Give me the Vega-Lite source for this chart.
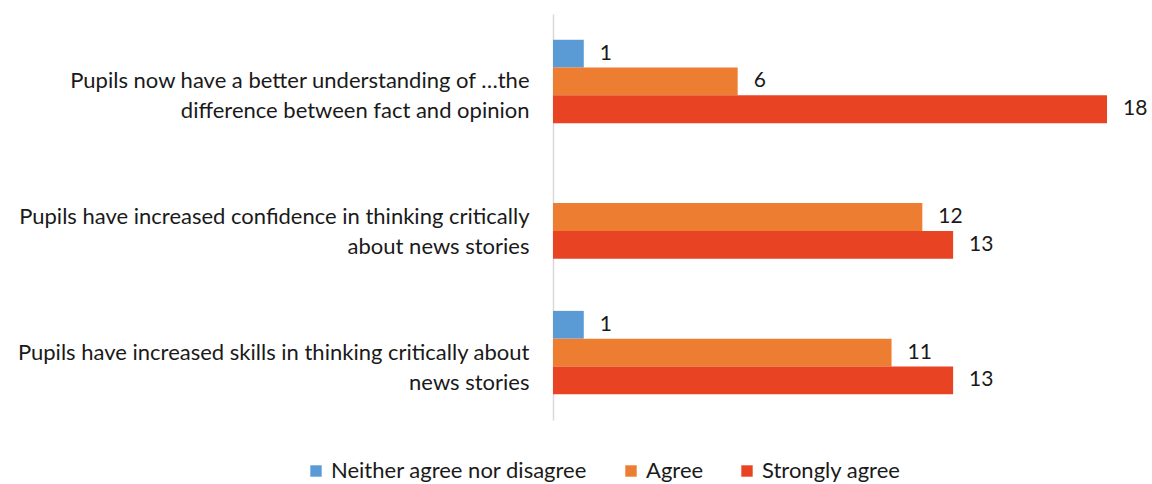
{
  "$schema": "https://vega.github.io/schema/vega-lite/v6.json",
  "width": 554,
  "height": 406,
  "padding": {"left": 16, "top": 14, "right": 5, "bottom": 5},
  "background": "white",
  "config": {"view": {"stroke": null}, "font": "Lato"},
  "data": {
    "values": [
      {"question": "Pupils now have a better understanding of …the|difference between fact and opinion", "response": "Neither agree nor disagree", "count": 1},
      {"question": "Pupils now have a better understanding of …the|difference between fact and opinion", "response": "Agree", "count": 6},
      {"question": "Pupils now have a better understanding of …the|difference between fact and opinion", "response": "Strongly agree", "count": 18},
      {"question": "Pupils have increased confidence in thinking critically|about news stories", "response": "Agree", "count": 12},
      {"question": "Pupils have increased confidence in thinking critically|about news stories", "response": "Strongly agree", "count": 13},
      {"question": "Pupils have increased skills in thinking critically about|news stories", "response": "Neither agree nor disagree", "count": 1},
      {"question": "Pupils have increased skills in thinking critically about|news stories", "response": "Agree", "count": 11},
      {"question": "Pupils have increased skills in thinking critically about|news stories", "response": "Strongly agree", "count": 13}
    ]
  },
  "encoding": {
    "y": {
      "field": "question",
      "type": "nominal",
      "sort": [
        "Pupils now have a better understanding of …the|difference between fact and opinion",
        "Pupils have increased confidence in thinking critically|about news stories",
        "Pupils have increased skills in thinking critically about|news stories"
      ],
      "scale": {"paddingInner": 0.385, "paddingOuter": 0.19},
      "axis": {
        "title": null,
        "ticks": false,
        "domainColor": "#d9d9d9",
        "domainWidth": 1.5,
        "labelFontSize": 22,
        "labelColor": "#1a1a1a",
        "labelPadding": 24,
        "labelLimit": 1000,
        "labelLineHeight": 30,
        "labelExpr": "split(datum.value, '|')"
      }
    },
    "yOffset": {
      "field": "response",
      "type": "nominal",
      "scale": {"domain": ["Neither agree nor disagree", "Agree", "Strongly agree"], "paddingInner": 0, "paddingOuter": 0}
    },
    "x": {
      "field": "count",
      "type": "quantitative",
      "scale": {"domain": [0, 18], "nice": false},
      "axis": null
    }
  },
  "layer": [
    {
      "mark": {"type": "bar"},
      "encoding": {
        "color": {
          "field": "response",
          "type": "nominal",
          "scale": {
            "domain": ["Neither agree nor disagree", "Agree", "Strongly agree"],
            "range": ["#5B9BD5", "#ED7D31", "#E84424"]
          },
          "legend": {
            "title": null,
            "orient": "none",
            "legendX": -248,
            "legendY": 446,
            "direction": "horizontal",
            "symbolType": "square",
            "symbolSize": 130,
            "symbolStrokeWidth": 0,
            "labelFontSize": 22,
            "labelLimit": 1000,
            "labelColor": "#1a1a1a",
            "columnPadding": 32
          }
        }
      }
    },
    {
      "mark": {"type": "text", "align": "left", "baseline": "middle", "dx": 16, "fontSize": 21, "color": "#1a1a1a"},
      "encoding": {"text": {"field": "count", "type": "quantitative"}}
    }
  ]
}
